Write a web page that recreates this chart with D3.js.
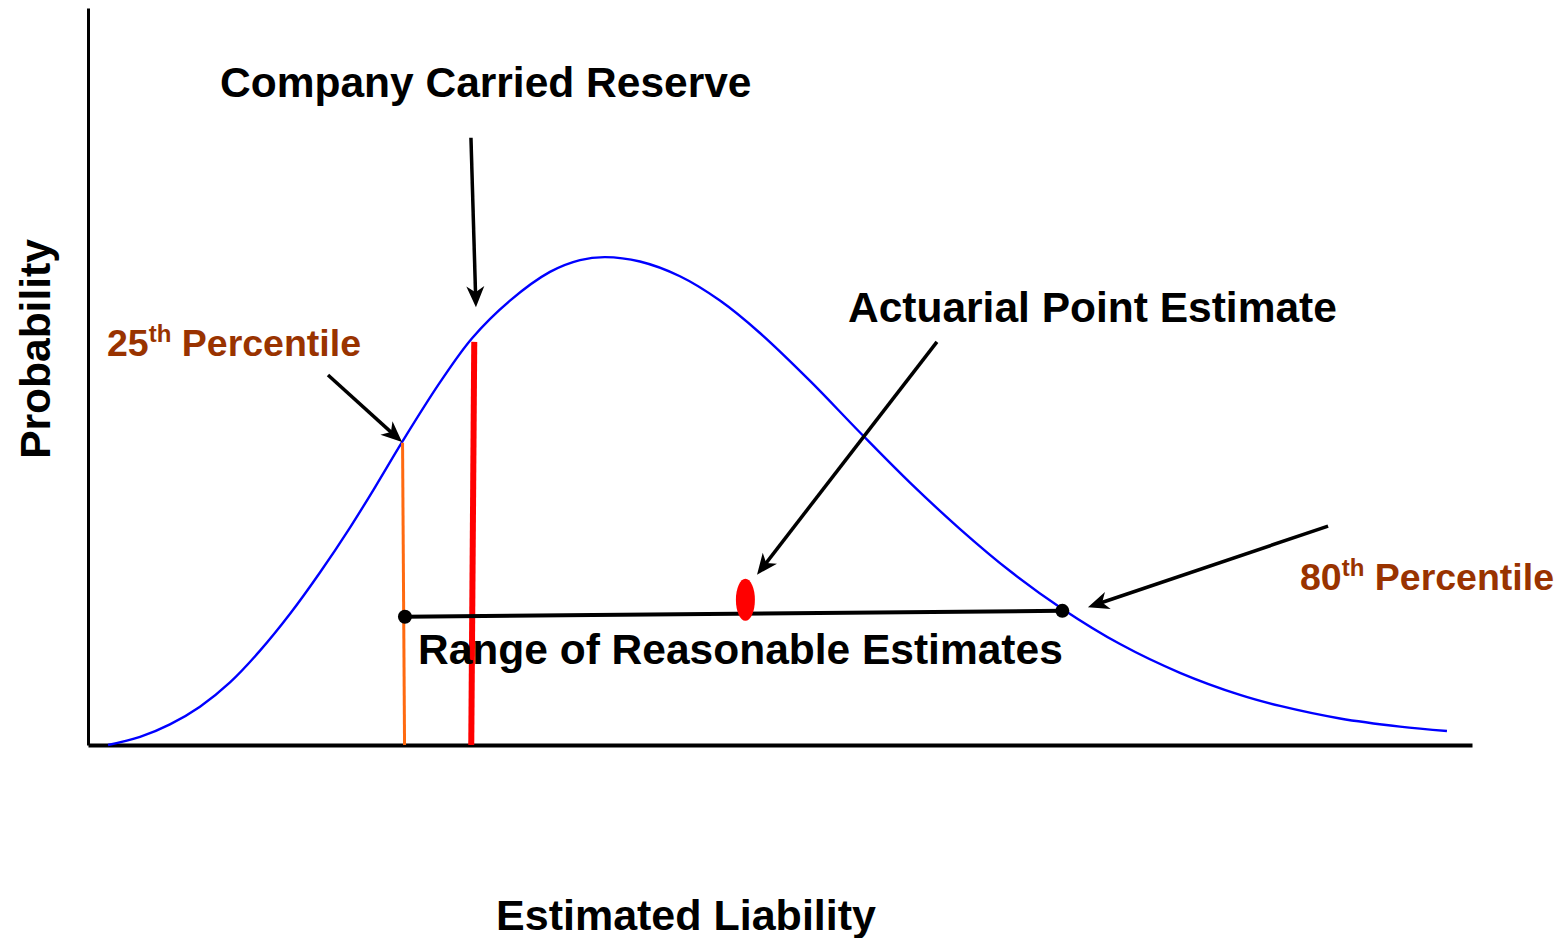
<!DOCTYPE html>
<html>
<head>
<meta charset="utf-8">
<script src="https://cdn.jsdelivr.net/npm/d3@7"></script>
<style>
  body { margin: 0; background: #fff; }
  text { font-family: "Liberation Sans", Arial, sans-serif; font-weight: bold; }
</style>
</head>
<body>
<div id="chart"></div>
<script>
// liability (0-100) and probability (0-1)
const curveX = [1.45, 3.76, 5.92, 8.09, 10.26, 12.43, 14.60, 16.76, 18.93, 20.81, 22.69, 25.43, 27.75,
  30.49, 33.38, 35.55, 37.36, 39.88, 42.77, 45.66, 48.55, 52.17, 55.78, 59.39, 63.01, 66.62,
  70.38, 74.57, 78.90, 83.24, 86.13, 90.46, 94.80, 98.19];
const curveY = [0.000, 0.011, 0.028, 0.052, 0.085, 0.128, 0.178, 0.234, 0.295, 0.352, 0.411, 0.492, 0.552,
  0.603, 0.642, 0.658, 0.662, 0.656, 0.636, 0.603, 0.559, 0.494, 0.424, 0.356, 0.293, 0.236,
  0.185, 0.137, 0.098, 0.068, 0.053, 0.036, 0.025, 0.019];

const p25 = 22.8, p25Top = 0.41;
const reserve = 27.8, reserveTop = 0.547;
const pointEstimate = 47.5, pointY = 0.197;
const rangeLow = [22.9, 0.174], rangeHigh = [70.4, 0.182];

// arrows: [fromX, fromY, toX, toY]
const arrows = [
  [27.67, 0.824, 28.03, 0.594],
  [17.34, 0.502, 22.69, 0.411],
  [61.34, 0.547, 48.34, 0.231],
  [89.6, 0.297, 72.25, 0.187]
];

const width = 1560, height = 938;

const svg = d3.select("#chart").append("svg")
  .attr("width", width)
  .attr("height", height);

const x = d3.scaleLinear().domain([0, 100]).range([88, 1472]);
const y = d3.scaleLinear().domain([0, 1]).range([745, 8]);

svg.append("defs").append("marker")
  .attr("id", "head")
  .attr("markerUnits", "userSpaceOnUse")
  .attr("viewBox", "-22 -10 24 20")
  .attr("refX", 0).attr("refY", 0)
  .attr("markerWidth", 24).attr("markerHeight", 20)
  .attr("orient", "auto")
  .append("path")
    .attr("d", "M0,0 L-21,-9 L-15,0 L-21,9 Z")
    .attr("fill", "#000");

// axes, no ticks
svg.append("g")
  .attr("transform", "translate(0,745)")
  .call(d3.axisBottom(x).tickValues([]).tickSizeOuter(0))
  .select(".domain").attr("stroke", "#000").attr("stroke-width", 4);

svg.append("g")
  .attr("transform", "translate(88,0)")
  .call(d3.axisLeft(y).tickValues([]).tickSizeOuter(0))
  .select(".domain").attr("stroke", "#000").attr("stroke-width", 3);

// distribution
const line = d3.line()
  .x((d, i) => x(curveX[i]))
  .y((d, i) => y(curveY[i]))
  .curve(d3.curveCatmullRom);

svg.append("path")
  .datum(curveX)
  .attr("d", line)
  .attr("fill", "none")
  .attr("stroke", "#0000ff")
  .attr("stroke-width", 2.4);

// 25th percentile line
svg.append("line")
  .attr("x1", x(p25) - 1).attr("y1", y(p25Top))
  .attr("x2", x(p25) + 1).attr("y2", y(0))
  .attr("stroke", "#ff6a10").attr("stroke-width", 3);

// carried reserve
svg.append("line")
  .attr("x1", x(reserve) + 1.5).attr("y1", y(reserveTop))
  .attr("x2", x(reserve) - 1.5).attr("y2", y(0))
  .attr("stroke", "#ff0000").attr("stroke-width", 6);

// range of reasonable estimates
svg.append("line")
  .attr("x1", x(rangeLow[0])).attr("y1", y(rangeLow[1]))
  .attr("x2", x(rangeHigh[0])).attr("y2", y(rangeHigh[1]))
  .attr("stroke", "#000").attr("stroke-width", 4);

svg.selectAll(".end")
  .data([rangeLow, rangeHigh])
  .enter().append("circle")
    .attr("cx", d => x(d[0]))
    .attr("cy", d => y(d[1]))
    .attr("r", 7)
    .attr("fill", "#000");

svg.append("ellipse")
  .attr("cx", x(pointEstimate))
  .attr("cy", y(pointY))
  .attr("rx", 9.5).attr("ry", 21)
  .attr("fill", "#ff0000");

// arrows, shortened a little so the head covers the end
arrows.forEach(a => {
  const x1 = x(a[0]), y1 = y(a[1]), x2 = x(a[2]), y2 = y(a[3]);
  const len = Math.hypot(x2 - x1, y2 - y1);
  const k = (len - 10) / len;
  svg.append("line")
    .attr("x1", x1).attr("y1", y1)
    .attr("x2", x1 + (x2 - x1) * k).attr("y2", y1 + (y2 - y1) * k)
    .attr("stroke", "#000").attr("stroke-width", 3.5);
  svg.append("path")
    .attr("d", `M${x1},${y1}L${x2},${y2}`)
    .attr("stroke", "none")
    .attr("fill", "none")
    .attr("marker-end", "url(#head)");
});

// labels
const big = 42.5, small = 37.5;

svg.append("text").attr("x", 220).attr("y", 97)
  .attr("font-size", big).text("Company Carried Reserve");
svg.append("text").attr("x", 848).attr("y", 322)
  .attr("font-size", big).text("Actuarial Point Estimate");
svg.append("text").attr("x", 418).attr("y", 664)
  .attr("font-size", big).text("Range of Reasonable Estimates");
svg.append("text").attr("x", 686).attr("y", 930)
  .attr("text-anchor", "middle")
  .attr("font-size", 43).text("Estimated Liability");
svg.append("text")
  .attr("transform", "translate(50,349) rotate(-90)")
  .attr("text-anchor", "middle")
  .attr("font-size", big).text("Probability");

function pctLabel(px, py, num) {
  const t = svg.append("text").attr("x", px).attr("y", py)
    .attr("font-size", small).attr("fill", "#993300");
  t.append("tspan").text(num);
  t.append("tspan").attr("dy", -14).attr("font-size", 24).text("th");
  t.append("tspan").attr("dy", 14).text(" Percentile");
}
pctLabel(107, 356, "25");
pctLabel(1300, 590, "80");
</script>
</body>
</html>
